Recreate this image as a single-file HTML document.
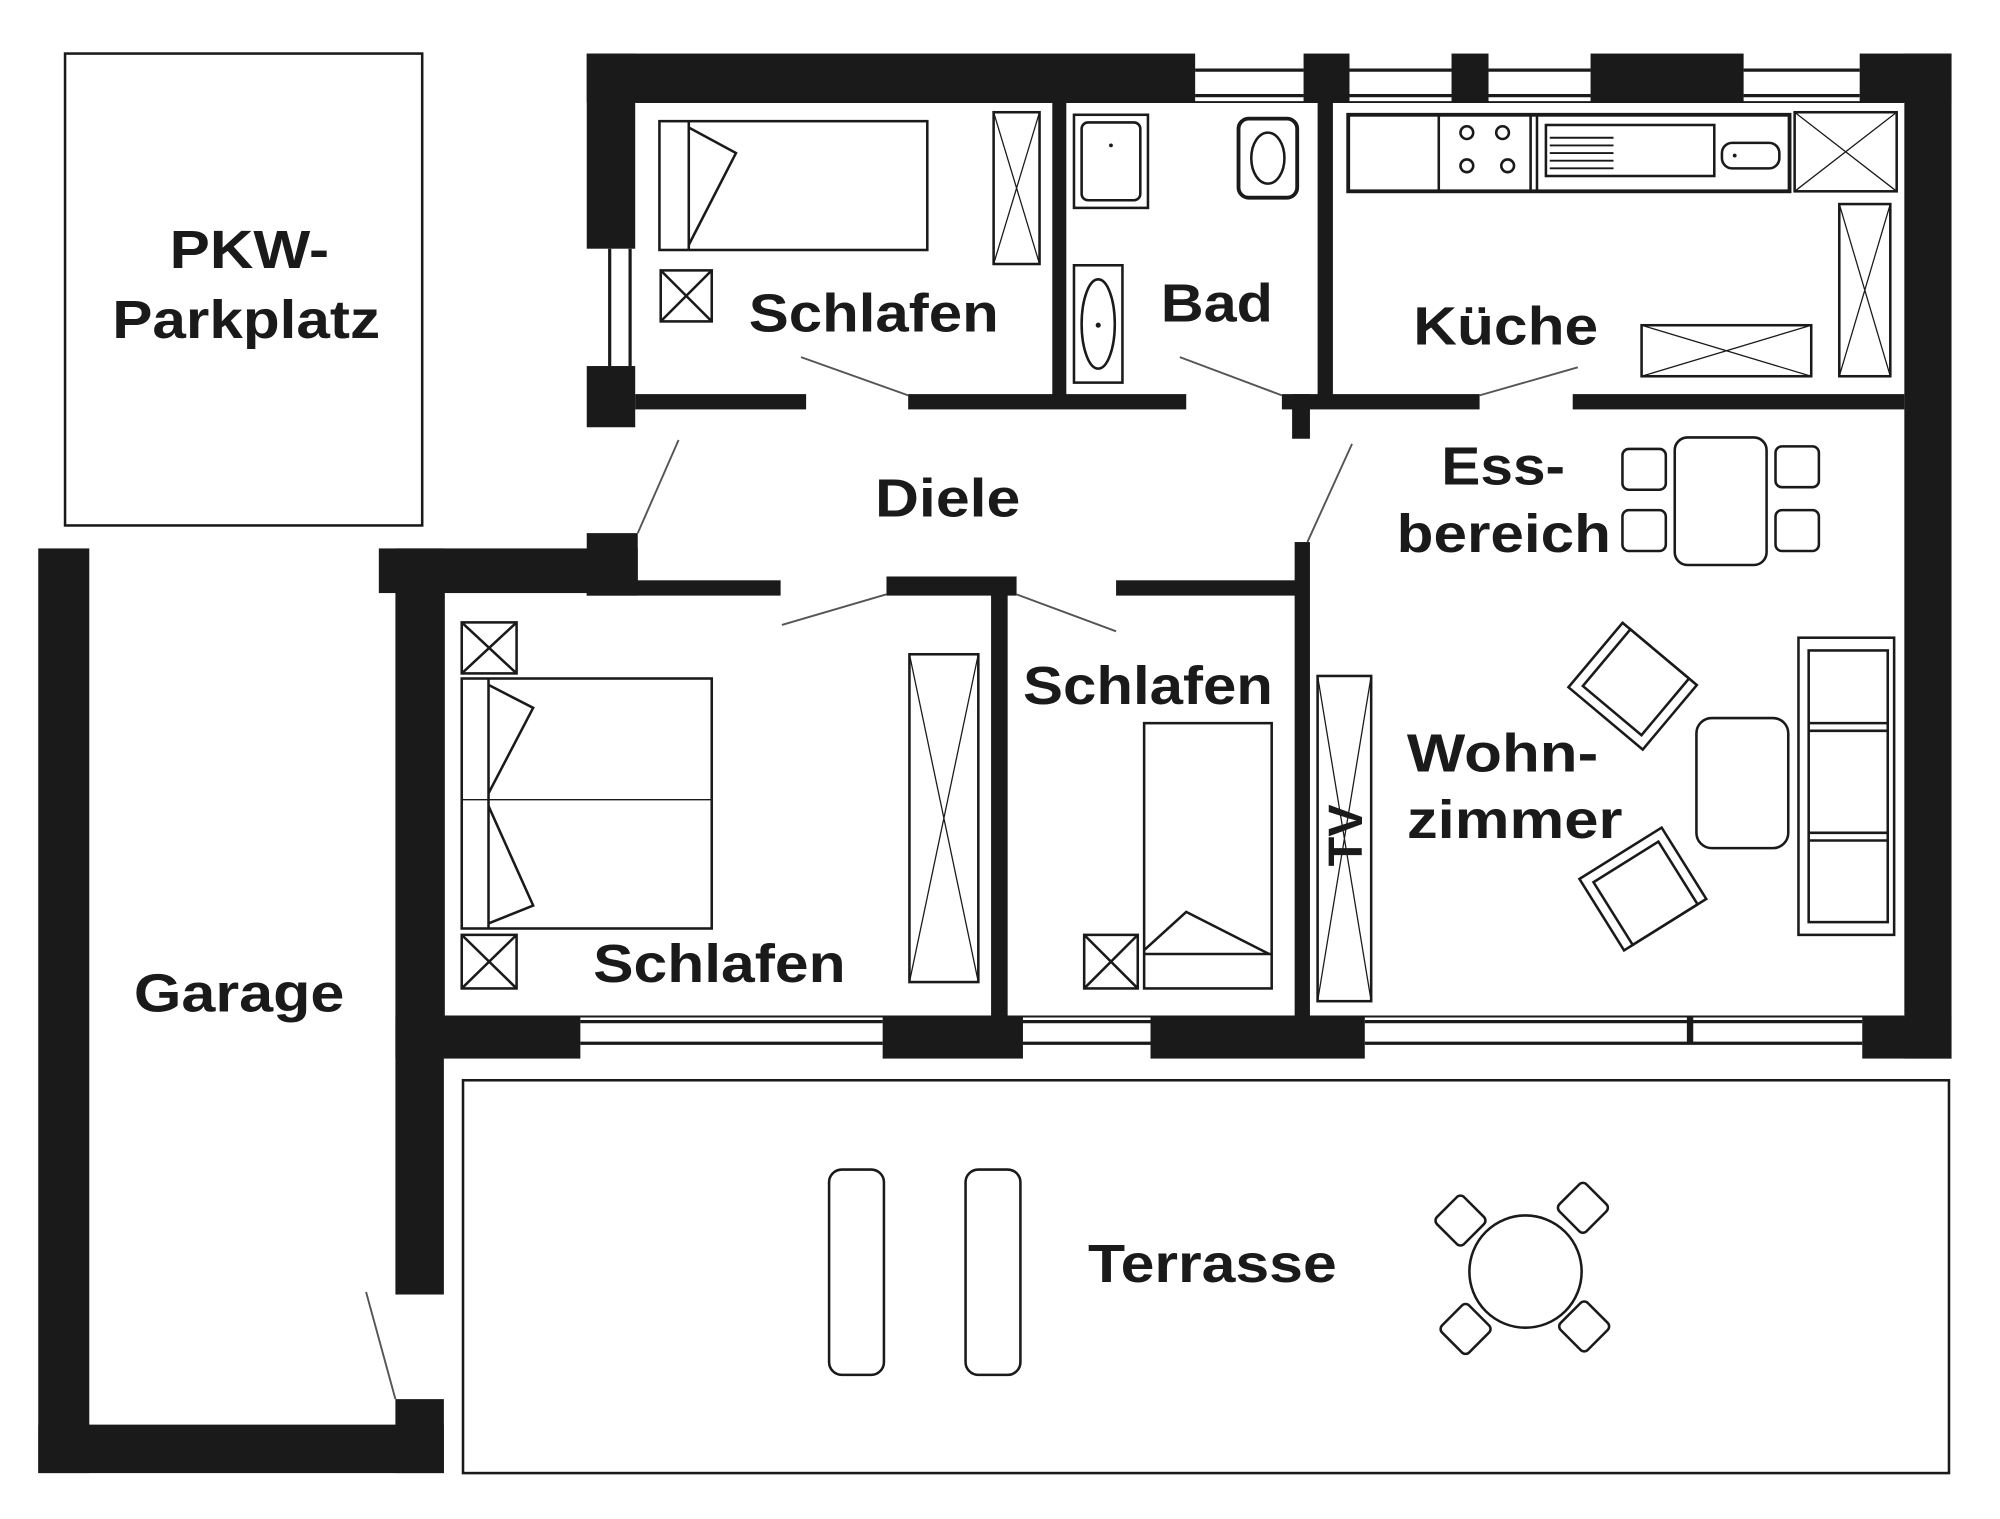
<!DOCTYPE html>
<html><head><meta charset="utf-8"><style>
html,body{margin:0;padding:0;background:#fff;}
svg{display:block;}
text{font-family:"Liberation Sans",Arial,sans-serif;font-weight:bold;fill:#1a1a1a;}
</style></head><body>
<svg width="2000" height="1519" viewBox="0 0 1568 1191" preserveAspectRatio="none" xmlns="http://www.w3.org/2000/svg">
<rect width="1568" height="1191" fill="#fff"/>
<g fill="none" stroke="#1a1a1a" stroke-width="2">
<rect x="51" y="42" width="280" height="370"/>
<rect x="363" y="847" width="1165" height="308"/>
</g>
<g fill="#1a1a1a">
<rect x="30" y="430" width="40" height="725"/>
<rect x="30" y="1117" width="318" height="38"/>
<rect x="310" y="1097" width="38" height="58"/>
<rect x="310" y="430" width="38" height="585"/>
<rect x="297" y="430" width="203" height="35"/>
<rect x="460" y="42" width="38" height="153"/>
<rect x="460" y="287" width="38" height="48"/>
<rect x="460" y="418" width="40" height="49"/>
<rect x="460" y="42" width="477" height="38"/>
<rect x="1022" y="42" width="36" height="38"/>
<rect x="1138" y="42" width="29" height="38"/>
<rect x="1247" y="42" width="120" height="38"/>
<rect x="1458" y="42" width="72" height="38"/>
<rect x="1493" y="42" width="37" height="788"/>
<rect x="498" y="309" width="134" height="12"/>
<rect x="712" y="309" width="218" height="12"/>
<rect x="1005" y="309" width="155" height="12"/>
<rect x="1013" y="309" width="14" height="35"/>
<rect x="1233" y="309" width="260" height="12"/>
<rect x="825" y="80" width="11" height="240"/>
<rect x="1033" y="80" width="12" height="240"/>
<rect x="460" y="455" width="152" height="12"/>
<rect x="695" y="452" width="102" height="15"/>
<rect x="875" y="455" width="145" height="12"/>
<rect x="1015" y="425" width="12" height="375"/>
<rect x="777" y="455" width="13" height="345"/>
<rect x="310" y="797" width="145" height="33"/>
<rect x="692" y="797" width="110" height="33"/>
<rect x="902" y="797" width="168" height="33"/>
<rect x="1460" y="797" width="70" height="33"/>
</g>
<g stroke="#1a1a1a" stroke-width="2.5" fill="none">
<line x1="937" y1="55" x2="1022" y2="55"/><line x1="937" y1="75" x2="1022" y2="75"/>
<line x1="1058" y1="55" x2="1138" y2="55"/><line x1="1058" y1="75" x2="1138" y2="75"/>
<line x1="1167" y1="55" x2="1247" y2="55"/><line x1="1167" y1="75" x2="1247" y2="75"/>
<line x1="1367" y1="55" x2="1458" y2="55"/><line x1="1367" y1="75" x2="1458" y2="75"/>
<line x1="478" y1="195" x2="478" y2="287"/><line x1="494" y1="195" x2="494" y2="287"/>
<line x1="455" y1="801" x2="692" y2="801"/><line x1="455" y1="818" x2="692" y2="818"/>
<line x1="802" y1="801" x2="902" y2="801"/><line x1="802" y1="818" x2="902" y2="818"/>
<line x1="1070" y1="801" x2="1460" y2="801"/><line x1="1070" y1="818" x2="1460" y2="818"/>
<line x1="1325" y1="797" x2="1325" y2="818" stroke-width="5"/>
<line x1="498" y1="80" x2="1493" y2="80" stroke-width="1.5"/>
<line x1="348" y1="465" x2="348" y2="797" stroke-width="1.5"/>
<line x1="348" y1="797" x2="1493" y2="797" stroke-width="1.5"/>
</g>
<g stroke="#555" stroke-width="1.5" fill="none">
<line x1="287" y1="1013" x2="310" y2="1097"/>
<line x1="500" y1="418" x2="532" y2="345"/>
<line x1="1025" y1="425" x2="1060" y2="348"/>
<line x1="628" y1="280" x2="712" y2="310"/>
<line x1="925" y1="280" x2="1005" y2="310"/>
<line x1="1160" y1="310" x2="1237" y2="288"/>
<line x1="613" y1="490" x2="695" y2="466"/>
<line x1="797" y1="466" x2="875" y2="495"/>
</g>
<g stroke="#1a1a1a" stroke-width="2" fill="none">
<rect x="517" y="95" width="210" height="101"/>
<line x1="540" y1="95" x2="540" y2="196"/>
<polyline points="540,100 577,120 540,192"/>
<rect x="518" y="212" width="40" height="40"/><path d="M518 212 L558 252 M558 212 L518 252"/>
<rect x="779" y="88" width="36" height="119"/><path d="M779 88 L815 207 M815 88 L779 207" stroke-width="1"/>
<rect x="842" y="90" width="58" height="73"/>
<rect x="848" y="96" width="46" height="61" rx="5"/>
<rect x="971" y="93" width="46" height="62" rx="8" stroke-width="3"/>
<ellipse cx="994" cy="124" rx="13" ry="20"/>
<rect x="842" y="208" width="38" height="92"/>
<ellipse cx="861" cy="254" rx="13" ry="35"/>
<rect x="1057" y="90" width="346" height="60" stroke-width="3"/>
<line x1="1128" y1="90" x2="1128" y2="150"/>
<line x1="1200" y1="90" x2="1200" y2="150"/>
<line x1="1205" y1="90" x2="1205" y2="150"/>
<rect x="1212" y="98" width="132" height="40"/>
<rect x="1350" y="112" width="45" height="20" rx="8"/>
<path d="M1215 108 H1265 M1215 114 H1265 M1215 120 H1265 M1215 126 H1265 M1215 132 H1265" stroke-width="1.5"/>
<circle cx="1150" cy="104" r="5"/><circle cx="1178" cy="104" r="5"/>
<circle cx="1150" cy="130" r="5"/><circle cx="1182" cy="130" r="5"/>
<rect x="1407" y="88" width="80" height="62"/><path d="M1407 88 L1487 150 M1487 88 L1407 150" stroke-width="1"/>
<rect x="1442" y="160" width="40" height="135"/><path d="M1442 160 L1482 295 M1482 160 L1442 295" stroke-width="1"/>
<rect x="1287" y="255" width="133" height="40"/><path d="M1287 255 L1420 295 M1420 255 L1287 295" stroke-width="1"/>
<rect x="1313" y="343" width="72" height="100" rx="10"/>
<rect x="1272" y="352" width="34" height="32" rx="5"/>
<rect x="1272" y="400" width="34" height="32" rx="5"/>
<rect x="1392" y="350" width="34" height="32" rx="5"/>
<rect x="1392" y="400" width="34" height="32" rx="5"/>
<rect x="362" y="488" width="43" height="40"/><path d="M362 488 L405 528 M405 488 L362 528"/>
<rect x="362" y="532" width="196" height="196"/>
<line x1="362" y1="627" x2="558" y2="627" stroke-width="1"/>
<line x1="383" y1="532" x2="383" y2="728"/>
<polyline points="383,537 418,555 383,622"/>
<polyline points="383,632 418,710 383,724"/>
<rect x="362" y="733" width="43" height="42"/><path d="M362 733 L405 775 M405 733 L362 775"/>
<rect x="713" y="513" width="54" height="257"/><path d="M713 513 L767 770 M767 513 L713 770" stroke-width="1"/>
<rect x="897" y="567" width="100" height="208"/>
<polyline points="897,745 930,715 995,748"/>
<line x1="897" y1="748" x2="997" y2="748"/>
<rect x="850" y="733" width="42" height="42"/><path d="M850 733 L892 775 M892 733 L850 775"/>
<rect x="1033" y="530" width="42" height="255"/><path d="M1033 530 L1075 785 M1075 530 L1033 785" stroke-width="1"/>
<rect x="1330" y="563" width="72" height="102" rx="12"/>
<rect x="1410" y="500" width="75" height="233"/>
<rect x="1418" y="510" width="62" height="213"/>
<line x1="1418" y1="567" x2="1480" y2="567"/><line x1="1418" y1="573" x2="1480" y2="573"/>
<line x1="1418" y1="653" x2="1480" y2="653"/><line x1="1418" y1="659" x2="1480" y2="659"/>
<g transform="translate(1280,538) rotate(40)">
<rect x="-38" y="-33" width="76" height="66"/><rect x="-30" y="-33" width="60" height="58"/>
</g>
<g transform="translate(1288,697) rotate(-32)">
<rect x="-38" y="-33" width="76" height="66"/><rect x="-30" y="-25" width="60" height="58"/>
</g>
<rect x="650" y="917" width="43" height="161" rx="10"/>
<rect x="757" y="917" width="43" height="161" rx="10"/>
<circle cx="1196" cy="997" r="44"/>
<rect x="-15" y="-15" width="30" height="30" rx="4" transform="translate(1145,957) rotate(45)"/>
<rect x="-15" y="-15" width="30" height="30" rx="4" transform="translate(1241,947) rotate(45)"/>
<rect x="-15" y="-15" width="30" height="30" rx="4" transform="translate(1149,1042) rotate(45)"/>
<rect x="-15" y="-15" width="30" height="30" rx="4" transform="translate(1242,1040) rotate(45)"/>
</g>
<g fill="#1a1a1a">
<circle cx="871" cy="114" r="1.5"/><circle cx="861" cy="255" r="2"/><circle cx="1360" cy="122" r="1.5"/>
</g>
<g font-size="42">
<text x="133" y="210" textLength="125" lengthAdjust="spacingAndGlyphs">PKW-</text>
<text x="88" y="265" textLength="210" lengthAdjust="spacingAndGlyphs">Parkplatz</text>
<text x="587" y="260" textLength="196" lengthAdjust="spacingAndGlyphs">Schlafen</text>
<text x="910" y="252" textLength="88" lengthAdjust="spacingAndGlyphs">Bad</text>
<text x="1108" y="270" textLength="145" lengthAdjust="spacingAndGlyphs">Küche</text>
<text x="686" y="405" textLength="114" lengthAdjust="spacingAndGlyphs">Diele</text>
<text x="1130" y="380" textLength="97" lengthAdjust="spacingAndGlyphs">Ess-</text>
<text x="1095" y="433" textLength="168" lengthAdjust="spacingAndGlyphs">bereich</text>
<text x="802" y="552" textLength="196" lengthAdjust="spacingAndGlyphs">Schlafen</text>
<text x="1103" y="605" textLength="150" lengthAdjust="spacingAndGlyphs">Wohn-</text>
<text x="1103" y="657" textLength="169" lengthAdjust="spacingAndGlyphs">zimmer</text>
<text x="465" y="770" textLength="198" lengthAdjust="spacingAndGlyphs">Schlafen</text>
<text x="105" y="793" textLength="165" lengthAdjust="spacingAndGlyphs">Garage</text>
<text x="853" y="1005" textLength="195" lengthAdjust="spacingAndGlyphs">Terrasse</text>
<text transform="translate(1068,655) rotate(-90)" x="0" y="0" text-anchor="middle" font-size="38">TV</text>
</g>
</svg>
</body></html>
